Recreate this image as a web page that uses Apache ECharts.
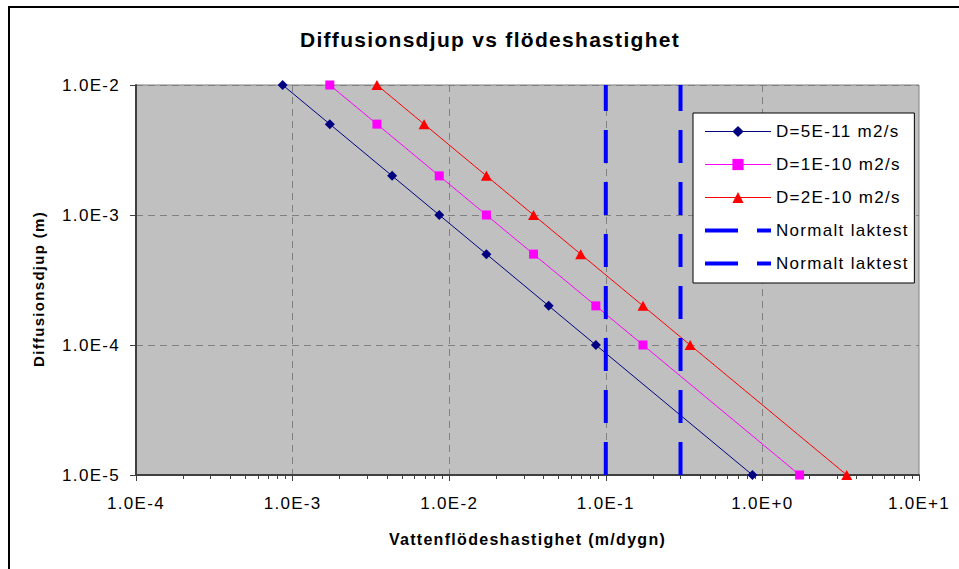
<!DOCTYPE html>
<html>
<head>
<meta charset="utf-8">
<script src="https://cdn.jsdelivr.net/npm/echarts@6/dist/echarts.min.js"></script>
<style>
  html, body { margin: 0; padding: 0; background: #fff; }
  #chart { width: 959px; height: 569px; }
  #chart svg text { letter-spacing: 1.3px; }
</style>
</head>
<body>
<div id="chart"></div>
<script>
// ---- data ----
const depth = [1e-2, 5e-3, 2e-3, 1e-3, 5e-4, 2e-4, 1e-4, 1e-5];          // Diffusionsdjup (m)
const flowD5e11 = [0.000864, 0.001728, 0.00432, 0.00864, 0.01728, 0.0432, 0.0864, 0.864];
const flowD1e10 = [0.001728, 0.003456, 0.00864, 0.01728, 0.03456, 0.0864, 0.1728, 1.728];
const flowD2e10 = [0.003456, 0.006912, 0.01728, 0.03456, 0.06912, 0.1728, 0.3456, 3.456];
const laktestFlow = [0.1, 0.3];                 // Normalt laktest (m/dygn)
const laktestDepth = [1e-5, 1e-2];              // vertical line span
const seriesNames = ['D=5E-11 m2/s', 'D=1E-10 m2/s', 'D=2E-10 m2/s', 'Normalt laktest', 'Normalt laktest'];
const xTicks = [1e-4, 1e-3, 1e-2, 1e-1, 1e0, 1e1];
const xTickLabels = ['1.0E-4', '1.0E-3', '1.0E-2', '1.0E-1', '1.0E+0', '1.0E+1'];
const yTicks = [1e-5, 1e-4, 1e-3, 1e-2];
const yTickLabels = ['1.0E-5', '1.0E-4', '1.0E-3', '1.0E-2'];
const titleText = 'Diffusionsdjup vs flödeshastighet';
const xName = 'Vattenflödeshastighet (m/dygn)';
const yName = 'Diffusionsdjup (m)';

// ---- helpers ----
function pickLabel(ticks, labels, v) {
  for (let i = 0; i < ticks.length; i++) {
    if (Math.abs(Math.log10(v) - Math.log10(ticks[i])) < 1e-6) return labels[i];
  }
  return '';
}
const pair = (xs, ys) => xs.map((x, i) => [x, ys[i]]);
const FONT = '"Liberation Sans", Arial, sans-serif';
const legendIds = ['s1', 's2', 's3', 'l1', 'l2'];
const legendLabel = {};
legendIds.forEach((id, i) => legendLabel[id] = seriesNames[i]);
const dashedLegend = { itemStyle: { opacity: 0 }, lineStyle: { width: 4, type: [33, 19], color: '#0000FF' } };

const chart = echarts.init(document.getElementById('chart'), null, { renderer: 'svg' });

const option = {
  backgroundColor: '#ffffff',
  animation: false,
  textStyle: { fontFamily: FONT },
  title: {
    text: titleText, left: 490, textAlign: 'center', top: 29, padding: 0,
    textStyle: { fontFamily: FONT, fontSize: 21, fontWeight: 'bold', color: '#000' }
  },
  graphic: [{
    type: 'rect', z: 100,
    shape: { x: 9, y: 7, width: 970, height: 580 },
    style: { fill: 'none', stroke: '#000', lineWidth: 2 }
  }],
  legend: {
    orient: 'vertical', left: 693, top: 113,
    padding: [10, 25, 11, 10],
    itemWidth: 66, itemHeight: 14, itemGap: 16,
    backgroundColor: '#ffffff', borderColor: '#000000', borderWidth: 1, borderRadius: 0,
    lineStyle: { width: 1 },
    data: [
      { name: 's1' }, { name: 's2' }, { name: 's3' },
      Object.assign({ name: 'l1' }, dashedLegend),
      Object.assign({ name: 'l2' }, dashedLegend)
    ],
    formatter: id => legendLabel[id],
    textStyle: { fontFamily: FONT, fontSize: 17, color: '#000' }
  },
  grid: {
    left: 136, top: 85, right: 40, bottom: 94, show: true,
    backgroundColor: '#C0C0C0', borderColor: '#808080', borderWidth: 1
  },
  xAxis: {
    type: 'log', logBase: 10, min: 1e-4, max: 10, splitNumber: 5,
    name: xName, nameLocation: 'middle', nameGap: 56,
    nameTextStyle: { fontFamily: FONT, fontSize: 16, fontWeight: 'bold', color: '#000' },
    axisLine: { show: true, onZero: false, lineStyle: { color: '#404040', width: 2 } },
    axisTick: { show: true, inside: false, length: 6, lineStyle: { color: '#404040', width: 1 } },
    minorTick: { show: true, splitNumber: 9, length: 4, lineStyle: { color: '#404040', width: 1 } },
    axisLabel: { margin: 20, fontFamily: FONT, fontSize: 17, color: '#000',
      formatter: v => pickLabel(xTicks, xTickLabels, v) },
    splitLine: { show: true, showMinLine: false, showMaxLine: false,
      lineStyle: { color: '#808080', width: 1, type: [7, 5] } }
  },
  yAxis: {
    type: 'log', logBase: 10, min: 1e-5, max: 1e-2, splitNumber: 3,
    name: yName, nameLocation: 'middle', nameGap: 90,
    nameTextStyle: { fontFamily: FONT, fontSize: 15, fontWeight: 'bold', color: '#000', padding: [0, 18, 0, 0] },
    axisLine: { show: true, onZero: false, lineStyle: { color: '#404040', width: 2 } },
    axisTick: { show: true, inside: false, length: 6, lineStyle: { color: '#404040', width: 1 } },
    axisLabel: { margin: 16, fontFamily: FONT, fontSize: 17, color: '#000',
      formatter: v => pickLabel(yTicks, yTickLabels, v) },
    splitLine: { show: true, showMinLine: false, showMaxLine: false,
      lineStyle: { color: '#808080', width: 1, type: [7, 5] } }
  },
  series: [
    { id: 's1', name: 's1', type: 'line', data: pair(flowD5e11, depth),
      symbol: 'diamond', symbolSize: 10,
      lineStyle: { color: '#000080', width: 1 }, itemStyle: { color: '#000080' }, z: 3 },
    { id: 's2', name: 's2', type: 'line', data: pair(flowD1e10, depth),
      symbol: 'rect', symbolSize: 9,
      lineStyle: { color: '#FF00FF', width: 1 }, itemStyle: { color: '#FF00FF' }, z: 3 },
    { id: 's3', name: 's3', type: 'line', data: pair(flowD2e10, depth),
      symbol: 'triangle', symbolSize: [11, 10],
      lineStyle: { color: '#FF0000', width: 1 }, itemStyle: { color: '#FF0000' }, z: 3 },
    { id: 'l1', name: 'l1', type: 'line', data: laktestDepth.map(d => [laktestFlow[0], d]),
      symbol: 'none', lineStyle: { color: '#0000FF', width: 4, type: [33, 19] },
      itemStyle: { color: '#0000FF' }, z: 4 },
    { id: 'l2', name: 'l2', type: 'line', data: laktestDepth.map(d => [laktestFlow[1], d]),
      symbol: 'none', lineStyle: { color: '#0000FF', width: 4, type: [33, 19] },
      itemStyle: { color: '#0000FF' }, z: 4 }
  ]
};
chart.setOption(option);
</script>
</body>
</html>
